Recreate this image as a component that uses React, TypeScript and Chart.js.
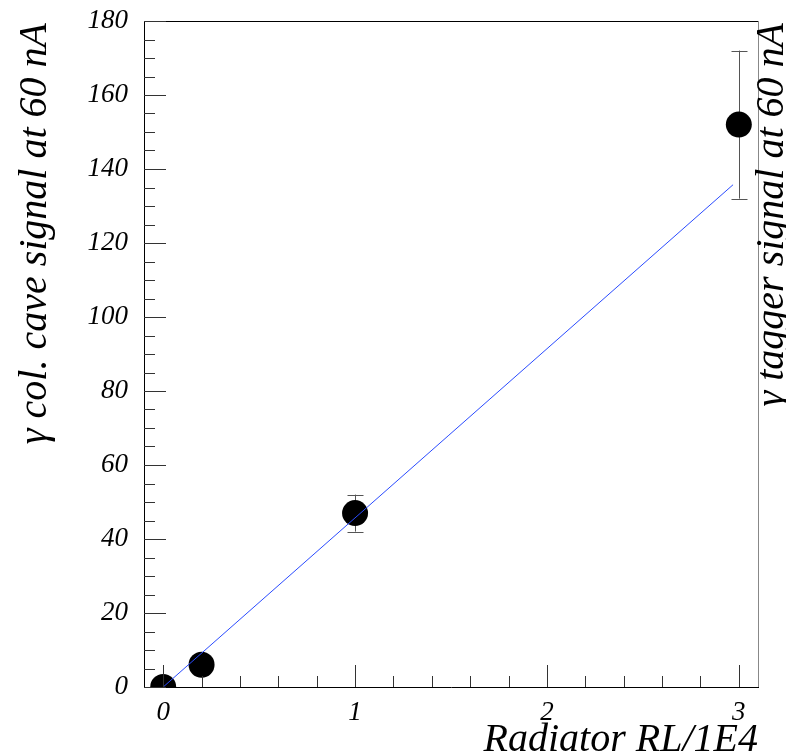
import React, { useEffect, useRef } from 'react';
import { Chart, registerables } from 'chart.js';

Chart.register(...registerables);

// ---- data ----
const radiatorRL = [0, 0.2, 1, 3];
const caveSignal = [0, 6, 47, 152];
const caveSignalErr = [3, 3, 5, 20];
const fitX = [0, 2.97];
const fitY = [0, 135.75];
const xTickValues = [0, 1, 2, 3];
const yTickValues = [0, 20, 40, 60, 80, 100, 120, 140, 160, 180];
const xMinorStep = 0.2;
const yMinorStep = 5;

const xTitle = 'Radiator RL/1E4';
const yTitle = 'γ col. cave signal at 60 nA';
const y2Title = 'γ tagger signal at 60 nA';

const SERIF = '"Liberation Serif", "Times New Roman", Times, "DejaVu Serif", serif';
const MARKER_R = 13;

const rootPlugin = {
  id: 'rootStyle',
  beforeDatasetsDraw(chart: any) {
    const { ctx } = chart;
    const xs = chart.scales.x;
    const ys = chart.scales.y;
    ctx.save();
    ctx.strokeStyle = '#555';
    ctx.lineWidth = 1;
    for (let i = 0; i < radiatorRL.length; i++) {
      const px = Math.round(xs.getPixelForValue(radiatorRL[i])) + 0.5;
      const cy = ys.getPixelForValue(caveSignal[i]);
      const top = ys.getPixelForValue(caveSignal[i] + caveSignalErr[i]);
      const bot = ys.getPixelForValue(Math.max(0, caveSignal[i] - caveSignalErr[i]));
      if (cy - top <= MARKER_R) continue;
      ctx.beginPath();
      ctx.moveTo(px, top);
      ctx.lineTo(px, bot);
      ctx.moveTo(px - 8, Math.round(top) + 0.5);
      ctx.lineTo(px + 8, Math.round(top) + 0.5);
      ctx.moveTo(px - 8, Math.round(bot) + 0.5);
      ctx.lineTo(px + 8, Math.round(bot) + 0.5);
      ctx.stroke();
    }
    ctx.restore();
  },
  afterDraw(chart: any) {
    const { ctx, chartArea } = chart;
    const xs = chart.scales.x;
    const ys = chart.scales.y;
    const { left, right, top, bottom } = chartArea;
    ctx.save();
    ctx.lineWidth = 1;
    ctx.strokeStyle = '#000';
    ctx.beginPath();
    ctx.moveTo(left, Math.round(top) + 0.5);
    ctx.lineTo(right, Math.round(top) + 0.5);
    ctx.stroke();
    ctx.strokeStyle = '#888';
    ctx.beginPath();
    ctx.moveTo(Math.round(right) + 0.5, top);
    ctx.lineTo(Math.round(right) + 0.5, bottom);
    ctx.stroke();

    ctx.strokeStyle = '#333';
    ctx.beginPath();
    const yMin = ys.min, yMax = ys.max;
    for (let v = Math.ceil(yMin / yMinorStep) * yMinorStep; v <= yMax + 1e-9; v += yMinorStep) {
      const py = Math.round(ys.getPixelForValue(v)) + 0.5;
      const major = yTickValues.some((t) => Math.abs(t - v) < 1e-6);
      ctx.moveTo(left, py);
      ctx.lineTo(left + (major ? 22 : 11), py);
    }
    const xMin = xs.min, xMax = xs.max;
    for (let k = Math.ceil(xMin / xMinorStep); k * xMinorStep <= xMax + 1e-9; k++) {
      const v = k * xMinorStep;
      const px = Math.round(xs.getPixelForValue(v)) + 0.5;
      const major = xTickValues.some((t) => Math.abs(t - v) < 1e-6);
      ctx.moveTo(px, bottom);
      ctx.lineTo(px, bottom - (major ? 22 : 11));
    }
    ctx.stroke();

    ctx.fillStyle = '#000';
    ctx.font = `italic 40px ${SERIF}`;
    ctx.textBaseline = 'alphabetic';
    ctx.textAlign = 'right';
    ctx.fillText(xTitle, right, 751);

    ctx.save();
    ctx.translate(46, top + 2);
    ctx.rotate(-Math.PI / 2);
    ctx.textAlign = 'right';
    ctx.fillText(yTitle, 0, 0);
    ctx.restore();

    ctx.save();
    ctx.translate(783, top + 2);
    ctx.rotate(-Math.PI / 2);
    ctx.textAlign = 'right';
    ctx.fillText(y2Title, 0, 0);
    ctx.restore();

    ctx.restore();
  },
};

export default function App() {
  const ref = useRef<HTMLCanvasElement | null>(null);
  useEffect(() => {
    document.body.style.margin = '0';
    const canvas = ref.current;
    if (!canvas) return;
    let chart: Chart | null = null;
    let cancelled = false;
    const build = () => {
      if (cancelled) return;
      chart = new Chart(canvas, {
        type: 'scatter',
        data: {
          datasets: [
            {
              type: 'line',
              label: 'fit',
              data: fitX.map((x, i) => ({ x, y: fitY[i] })),
              borderColor: '#2a4bff',
              borderWidth: 1,
              pointRadius: 0,
              fill: false,
              tension: 0,
            } as any,
            {
              label: 'data',
              data: radiatorRL.map((x, i) => ({ x, y: caveSignal[i] })),
              backgroundColor: '#000',
              borderColor: '#000',
              pointRadius: MARKER_R,
              pointHoverRadius: MARKER_R,
              borderWidth: 0,
            },
          ],
        },
        options: {
          animation: false,
          responsive: false,
          events: [],
          layout: { padding: { top: 21, right: 28, left: 0, bottom: 0 } },
          plugins: { legend: { display: false }, tooltip: { enabled: false } },
          scales: {
            x: {
              type: 'linear',
              min: -0.1,
              max: 3.1,
              grid: { display: false, drawTicks: false },
              border: { display: true, color: '#000', width: 1 },
              afterBuildTicks: (s: any) => {
                s.ticks = xTickValues.map((value) => ({ value }));
              },
              afterFit: (s: any) => {
                s.height = 69;
                s.paddingLeft = 0;
                s.paddingRight = 0;
              },
              ticks: {
                padding: 10,
                color: '#000',
                font: { family: SERIF, size: 27, style: 'italic' },
                callback: (v: any) => String(v),
                maxRotation: 0,
                autoSkip: false,
              },
            },
            y: {
              type: 'linear',
              min: 0,
              max: 180,
              grid: { display: false, drawTicks: false },
              border: { display: true, color: '#000', width: 1 },
              afterBuildTicks: (s: any) => {
                s.ticks = yTickValues.map((value) => ({ value }));
              },
              afterFit: (s: any) => {
                s.width = 144;
                s.paddingTop = 0;
                s.paddingBottom = 0;
              },
              ticks: {
                padding: 16,
                color: '#000',
                font: { family: SERIF, size: 27, style: 'italic' },
                callback: (v: any) => String(v),
                autoSkip: false,
              },
            },
          },
        },
        plugins: [rootPlugin],
      });
    };
    const loads = [
      'italic 27px "Liberation Serif"',
      'italic 40px "Liberation Serif"',
    ].map((f) => (document.fonts ? document.fonts.load(f).catch(() => []) : Promise.resolve([])));
    Promise.all(loads).then(build, build);
    return () => {
      cancelled = true;
      if (chart) chart.destroy();
    };
  }, []);
  return (
    <div style={{ width: 786, height: 756, background: '#fff' }}>
      <canvas ref={ref} width={786} height={756} style={{ display: 'block' }} />
    </div>
  );
}
